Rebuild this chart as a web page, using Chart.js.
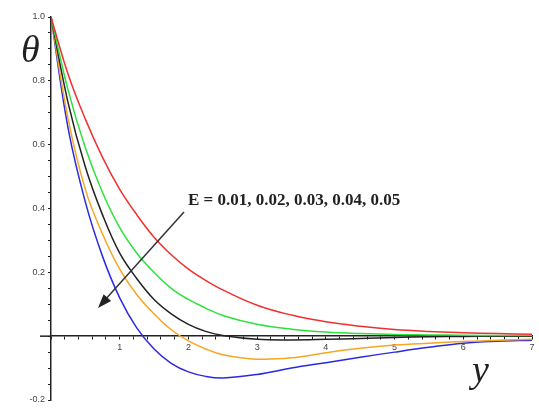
<!DOCTYPE html>
<html>
<head>
<meta charset="utf-8">
<script src="https://cdn.jsdelivr.net/npm/chart.js@4.4.1/dist/chart.umd.min.js"></script>
<style>
  html, body { margin:0; padding:0; background:#fff; }
  #wrap { width:539px; height:412px; }
</style>
</head>
<body>
<div id="wrap"><canvas id="theta"></canvas></div>
<script>
const yPts = [0,0.25,0.5,0.75,1,1.25,1.5,1.75,2,2.25,2.5,3,3.5,4,4.5,5,5.5,6,6.5,7];
const eLabels = ['E = 0.01','E = 0.02','E = 0.03','E = 0.04','E = 0.05'];
const colors = ['#f03030','#30e040','#222222','#f5a623','#2a2ae0'];

const thetaE1 = [1,0.82,0.68,0.56,0.46,0.38,0.31,0.255,0.21,0.175,0.145,0.097,0.066,0.045,0.031,0.021,0.015,0.011,0.008,0.006];
const thetaE2 = [1,0.77,0.59,0.45,0.34,0.26,0.2,0.15,0.115,0.088,0.065,0.037,0.022,0.013,0.008,0.005,0.004,0.003,0.002,0.002];
const thetaE3 = [1,0.73,0.53,0.38,0.26,0.18,0.115,0.07,0.037,0.015,0.002,-0.01,-0.012,-0.01,-0.007,-0.004,-0.002,-0.001,0,0];
const thetaE4 = [1,0.68,0.46,0.32,0.21,0.13,0.07,0.02,-0.015,-0.04,-0.058,-0.072,-0.068,-0.052,-0.038,-0.028,-0.022,-0.017,-0.013,-0.01];
const thetaE5 = [1,0.65,0.42,0.25,0.12,0.025,-0.04,-0.085,-0.112,-0.126,-0.131,-0.12,-0.1,-0.083,-0.066,-0.05,-0.035,-0.022,-0.016,-0.013];
const series = [thetaE1, thetaE2, thetaE3, thetaE4, thetaE5];

// labels, arrow and axis symbols
const notes = {
  id:'notes',
  afterDraw(chart){
    const c = chart.ctx;
    c.save();
    // x axis runs a little past the y axis, as in the original
    const y0 = chart.scales.y.getPixelForValue(0);
    c.strokeStyle = '#222'; c.lineWidth = 1.5;
    c.beginPath(); c.moveTo(40, y0); c.lineTo(chart.chartArea.left, y0); c.stroke();

    c.fillStyle = '#222';
    c.font = 'italic 38px "Liberation Serif", serif';
    c.fillText('θ', 21, 62);
    c.fillText('y', 472, 382);
    c.font = 'bold 17px "Liberation Serif", serif';
    c.fillText('E = 0.01, 0.02, 0.03, 0.04, 0.05', 188, 205, 222);
    // arrow
    c.strokeStyle = '#333'; c.lineWidth = 1.5;
    c.beginPath(); c.moveTo(184, 212); c.lineTo(104, 301); c.stroke();
    const a = Math.atan2(301-212, 104-184);
    c.beginPath();
    c.moveTo(98, 308);
    c.lineTo(98 - 14*Math.cos(a) + 5*Math.sin(a), 308 - 14*Math.sin(a) - 5*Math.cos(a));
    c.lineTo(98 - 14*Math.cos(a) - 5*Math.sin(a), 308 - 14*Math.sin(a) + 5*Math.cos(a));
    c.closePath(); c.fillStyle = '#222'; c.fill();
    c.restore();
  }
};

new Chart(document.getElementById('theta'), {
  type:'line',
  data:{
    datasets: series.map((s,i)=>({
      label:eLabels[i],
      data:s.map((v,j)=>({x:yPts[j], y:v})),
      borderColor:colors[i], borderWidth:1.5,
      pointRadius:0, tension:0.4, fill:false
    }))
  },
  options:{
    responsive:true, maintainAspectRatio:false, animation:false,
    layout:{padding:{top:17, right:7, bottom:12, left:0}},
    plugins:{legend:{display:false}, tooltip:{enabled:false}},
    scales:{
      x:{
        type:'linear', min:0, max:7, position:{y:0},
        afterFit:s=>{ s.height = 0; },
        grid:{drawOnChartArea:false, tickLength:3, color:'#222'},
        border:{color:'#222', width:1.5},
        ticks:{stepSize:0.2, autoSkip:false, maxRotation:0, padding:3, color:'#444',
          font:{size:9, family:'"Liberation Sans", sans-serif'},
          callback:v=>(Math.abs(v-Math.round(v))<1e-6 && v>0) ? Math.round(v) : ''}
      },
      y:{
        type:'linear', min:-0.2, max:1.0, position:'left',
        afterFit:s=>{ s.width = 51; },
        grid:{drawOnChartArea:false, tickLength:3, color:'#222'},
        border:{color:'#222', width:1.5},
        ticks:{stepSize:0.05, autoSkip:false, padding:3, color:'#444',
          font:{size:9, family:'"Liberation Sans", sans-serif'},
          callback:v=>{ const k=Math.round(v*100); return (k%20===0 && k!==0) ? (k/100).toFixed(1) : ''; }}
      }
    }
  },
  plugins:[notes]
});
</script>
</body>
</html>
